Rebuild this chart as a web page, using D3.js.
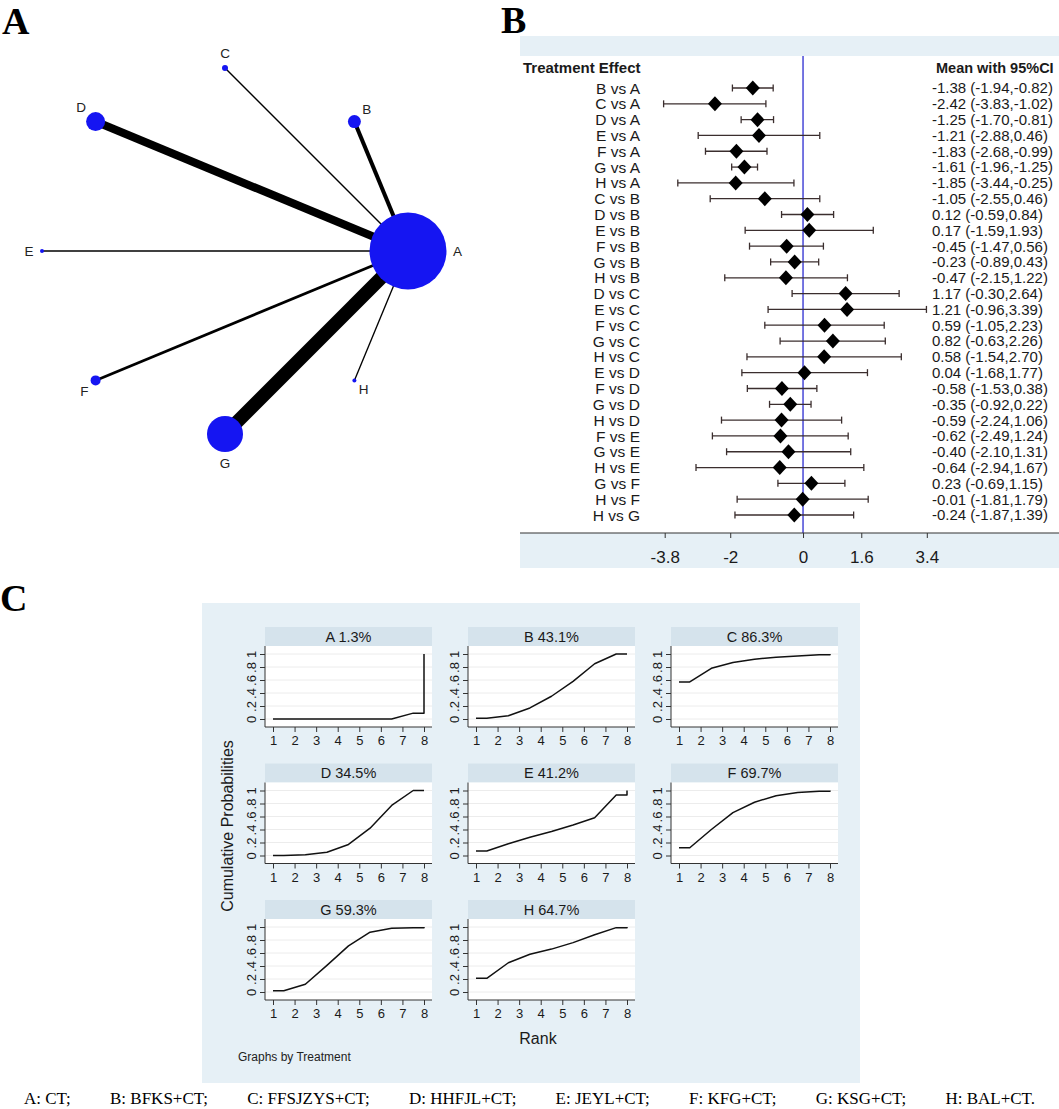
<!DOCTYPE html>
<html>
<head>
<meta charset="utf-8">
<script src="https://cdn.jsdelivr.net/npm/d3@7"></script>
<style>
  body { margin: 0; background: #fff; }
  svg { display: block; font-family: "Liberation Sans", Arial, sans-serif; }
</style>
</head>
<body>
<script>
// ---- network (panel A) ----
var treatments = ["A", "B", "C", "D", "E", "F", "G", "H"];
var sampleSize = [1480, 42, 9, 90, 4, 25, 324, 4];
var edgeTargets = ["B", "C", "D", "E", "F", "G", "H"];
var edgeStudies = [3, 1, 6, 1, 2, 10, 1];

// ---- league of comparisons (panel B) ----
var comparisons = ["B vs A", "C vs A", "D vs A", "E vs A", "F vs A", "G vs A", "H vs A",
  "C vs B", "D vs B", "E vs B", "F vs B", "G vs B", "H vs B",
  "D vs C", "E vs C", "F vs C", "G vs C", "H vs C",
  "E vs D", "F vs D", "G vs D", "H vs D",
  "F vs E", "G vs E", "H vs E", "G vs F", "H vs F", "H vs G"];
var meanDiff = [-1.38, -2.42, -1.25, -1.21, -1.83, -1.61, -1.85,
  -1.05, 0.12, 0.17, -0.45, -0.23, -0.47,
  1.17, 1.21, 0.59, 0.82, 0.58,
  0.04, -0.58, -0.35, -0.59,
  -0.62, -0.40, -0.64, 0.23, -0.01, -0.24];
var lowerCI = [-1.94, -3.83, -1.70, -2.88, -2.68, -1.96, -3.44,
  -2.55, -0.59, -1.59, -1.47, -0.89, -2.15,
  -0.30, -0.96, -1.05, -0.63, -1.54,
  -1.68, -1.53, -0.92, -2.24,
  -2.49, -2.10, -2.94, -0.69, -1.81, -1.87];
var upperCI = [-0.82, -1.02, -0.81, 0.46, -0.99, -1.25, -0.25,
  0.46, 0.84, 1.93, 0.56, 0.43, 1.22,
  2.64, 3.39, 2.23, 2.26, 2.70,
  1.77, 0.38, 0.22, 1.06,
  1.24, 1.31, 1.67, 1.15, 1.79, 1.39];
var forestTicks = [-3.8, -2, 0, 1.6, 3.4];

// ---- cumulative ranking probabilities (panel C), ranks 1..7 ----
var sucra = [1.3, 43.1, 86.3, 34.5, 41.2, 69.7, 59.3, 64.7];
var cumA = [0.00, 0.00, 0.00, 0.00, 0.00, 0.00, 0.09];
var cumB = [0.01, 0.05, 0.17, 0.35, 0.58, 0.85, 1.00];
var cumC = [0.57, 0.78, 0.87, 0.92, 0.95, 0.97, 0.99];
var cumD = [0.00, 0.01, 0.05, 0.17, 0.42, 0.77, 1.00];
var cumE = [0.07, 0.18, 0.28, 0.37, 0.47, 0.58, 0.93];
var cumF = [0.12, 0.40, 0.66, 0.82, 0.92, 0.97, 0.99];
var cumG = [0.02, 0.12, 0.41, 0.71, 0.92, 0.98, 0.99];
var cumH = [0.21, 0.45, 0.58, 0.66, 0.76, 0.88, 0.99];
var ranks = [1, 2, 3, 4, 5, 6, 7, 8];
var probTicks = [0, 0.2, 0.4, 0.6, 0.8, 1];
var probTickLabels = ["0", ".2", ".4", ".6", ".8", "1"];

var legendItems = ["A: CT;", "B: BFKS+CT;", "C: FFSJZYS+CT;", "D: HHFJL+CT;",
  "E: JEYL+CT;", "F: KFG+CT;", "G: KSG+CT;", "H: BAL+CT."];

var paleBlue = "#e6f0f6",
    stripBlue = "#d5e3ec",
    ink = "#1a1a1a";

// plain hyphen for negatives, like the original
var locale = d3.formatLocale({ decimal: ".", thousands: ",", grouping: [3],
                               currency: ["", ""], minus: "-" });

var svg = d3.select("body").append("svg")
    .attr("width", 1059)
    .attr("height", 1109);

function panelLetter(txt, x, y) {
  svg.append("text")
      .attr("x", x).attr("y", y)
      .style("font-family", "'Liberation Serif', 'Times New Roman', serif")
      .style("font-weight", "bold")
      .style("font-size", "38px")
      .text(txt);
}
panelLetter("A", 2, 34);
panelLetter("B", 501, 33);
panelLetter("C", 0, 611);

// ================= Panel A: network =================
(function() {
  var g = svg.append("g");
  var cx = 225, cy = 251, R = 183;
  var angle = d3.scaleLinear().domain([0, treatments.length]).range([0, 2 * Math.PI]);
  var rScale = d3.scaleSqrt().domain([0, d3.max(sampleSize)]).range([0, 38.5]);
  var wScale = d3.scaleLinear().domain([0, d3.max(edgeStudies)]).range([0, 13.5]);

  var nodes = treatments.map(function(t, i) {
    var a = angle(i);
    return { id: t, r: rScale(sampleSize[i]), a: a,
             x: cx + R * Math.cos(a), y: cy - R * Math.sin(a) };
  });
  var byId = {};
  nodes.forEach(function(n) { byId[n.id] = n; });

  g.selectAll("line.edge")
    .data(edgeTargets)
    .enter().append("line")
      .attr("class", "edge")
      .attr("x1", byId.A.x).attr("y1", byId.A.y)
      .attr("x2", function(d) { return byId[d].x; })
      .attr("y2", function(d) { return byId[d].y; })
      .attr("stroke", "#000")
      .attr("stroke-width", function(d, i) { return wScale(edgeStudies[i]); });

  g.selectAll("circle.node")
    .data(nodes)
    .enter().append("circle")
      .attr("class", "node")
      .attr("cx", function(d) { return d.x; })
      .attr("cy", function(d) { return d.y; })
      .attr("r", function(d) { return d.r; })
      .attr("fill", "#1515f2");

  g.selectAll("text.nlab")
    .data(nodes)
    .enter().append("text")
      .attr("class", "nlab")
      .attr("x", function(d) { return d.x + (d.r + 11) * Math.cos(d.a); })
      .attr("y", function(d) { return d.y - (d.r + 11) * Math.sin(d.a); })
      .attr("text-anchor", "middle")
      .attr("dominant-baseline", "central")
      .style("font-size", "13.5px")
      .attr("fill", "#222")
      .text(function(d) { return d.id; });
})();

// ================= Panel B: forest plot =================
(function() {
  var g = svg.append("g");
  var left = 520, right = 1059, axisY = 533;
  var x = d3.scaleLinear().domain([-3.8, 3.4]).range([664.7, 926.8]);
  var y = d3.scalePoint().domain(comparisons).range([88, 515]);
  var fmt = locale.format(".2f");

  g.append("rect").attr("x", left).attr("y", 36).attr("width", right - left).attr("height", 20)
      .attr("fill", paleBlue);
  g.append("rect").attr("x", left).attr("y", axisY).attr("width", right - left).attr("height", 35)
      .attr("fill", paleBlue);

  g.append("line")
      .attr("x1", x(0)).attr("x2", x(0))
      .attr("y1", 56).attr("y2", axisY)
      .attr("stroke", "#2b2bd0").attr("stroke-width", 1.3);

  g.append("text").attr("x", 523).attr("y", 73)
      .style("font-size", "15px").style("font-weight", "bold").attr("fill", ink)
      .text("Treatment Effect");
  g.append("text").attr("x", 936).attr("y", 73)
      .style("font-size", "14.5px").style("font-weight", "bold").attr("fill", ink)
      .text("Mean with 95%CI");

  var rows = g.selectAll("g.row")
    .data(comparisons)
    .enter().append("g")
      .attr("class", "row")
      .attr("transform", function(d) { return "translate(0," + y(d) + ")"; });

  rows.append("text")
      .attr("x", 640).attr("y", 0).attr("dy", "0.36em")
      .attr("text-anchor", "end")
      .style("font-size", "15.5px").attr("fill", ink)
      .text(function(d) { return d; });

  rows.append("text")
      .attr("x", 932).attr("y", 0).attr("dy", "0.36em")
      .style("font-size", "15px").attr("fill", ink)
      .text(function(d, i) {
        return fmt(meanDiff[i]) + " (" + fmt(lowerCI[i]) + "," + fmt(upperCI[i]) + ")";
      });

  var ciColor = "#3b2e2e";
  rows.append("line")
      .attr("x1", function(d, i) { return x(lowerCI[i]); })
      .attr("x2", function(d, i) { return x(upperCI[i]); })
      .attr("stroke", ciColor).attr("stroke-width", 1.3);
  rows.append("line")
      .attr("x1", function(d, i) { return x(lowerCI[i]); })
      .attr("x2", function(d, i) { return x(lowerCI[i]); })
      .attr("y1", -3.5).attr("y2", 3.5)
      .attr("stroke", ciColor).attr("stroke-width", 1.3);
  rows.append("line")
      .attr("x1", function(d, i) { return x(upperCI[i]); })
      .attr("x2", function(d, i) { return x(upperCI[i]); })
      .attr("y1", -3.5).attr("y2", 3.5)
      .attr("stroke", ciColor).attr("stroke-width", 1.3);
  rows.append("path")
      .attr("d", function(d, i) {
        var cxp = x(meanDiff[i]);
        return "M" + (cxp - 7) + ",0L" + cxp + ",-7.5L" + (cxp + 7) + ",0L" + cxp + ",7.5Z";
      })
      .attr("fill", "#000");

  var axis = g.append("g")
      .attr("transform", "translate(0," + axisY + ")")
      .call(d3.axisBottom(x).tickValues(forestTicks).tickSize(5).tickPadding(13)
        .tickFormat(function(d) { return String(d); }));
  axis.select(".domain").remove();
  axis.selectAll(".tick line").attr("stroke", "#333");
  axis.selectAll(".tick text").style("font-size", "17px").style("font-family", "'Liberation Sans', Arial, sans-serif")
      .attr("fill", ink);
  g.append("line").attr("x1", left).attr("x2", right).attr("y1", axisY).attr("y2", axisY)
      .attr("stroke", "#333").attr("stroke-width", 1.2);
})();

// ================= Panel C: cumulative ranking =================
(function() {
  var g = svg.append("g");
  var cumData = [cumA, cumB, cumC, cumD, cumE, cumF, cumG, cumH];
  var colLeft = [265, 468, 671], colW = 167;
  var rowTop = [627, 763.5, 900], stripH = 19, plotH = 81;

  g.append("rect").attr("x", 202).attr("y", 603).attr("width", 658).attr("height", 480)
      .attr("fill", paleBlue);

  treatments.forEach(function(t, i) {
    var cl = colLeft[i % 3], rt = rowTop[Math.floor(i / 3)];
    var pt = rt + stripH;
    var x = d3.scaleLinear().domain([1, 8]).range([cl + 8, cl + 159]);
    var y = d3.scaleLinear().domain([0, 1]).range([pt + 73, pt + 8]);
    var cell = g.append("g");

    cell.append("rect").attr("x", cl).attr("y", rt).attr("width", colW).attr("height", stripH)
        .attr("fill", stripBlue);
    cell.append("text").attr("x", cl + colW / 2).attr("y", rt + stripH / 2).attr("dy", "0.36em")
        .attr("text-anchor", "middle").style("font-size", "14.5px").attr("fill", ink)
        .text(t + " " + sucra[i] + "%");
    cell.append("rect").attr("x", cl).attr("y", pt).attr("width", colW).attr("height", plotH)
        .attr("fill", "#fff");

    cell.selectAll("line.grid")
      .data(probTicks)
      .enter().append("line")
        .attr("class", "grid")
        .attr("x1", cl).attr("x2", cl + colW)
        .attr("y1", function(d) { return y(d); })
        .attr("y2", function(d) { return y(d); })
        .attr("stroke", "#ececec").attr("stroke-width", 1);

    // curve: flat first half-rank, midpoints, flat last half-rank, then jump to 1
    var c = cumData[i];
    var pts = [[1, c[0]]];
    c.forEach(function(v, k) { pts.push([ranks[k] + 0.5, v]); });
    pts.push([8, c[c.length - 1]]);
    pts.push([8, 1]);
    cell.append("path")
        .datum(pts)
        .attr("fill", "none").attr("stroke", "#111").attr("stroke-width", 1.5)
        .attr("stroke-linejoin", "round")
        .attr("d", d3.line().x(function(d) { return x(d[0]); }).y(function(d) { return y(d[1]); }));

    var xa = cell.append("g")
        .attr("transform", "translate(0," + (pt + plotH) + ")")
        .call(d3.axisBottom(x).tickValues(ranks).tickSize(5).tickPadding(4).tickSizeOuter(0)
          .tickFormat(d3.format("d")));
    xa.select(".domain").attr("d", "M" + cl + ",0H" + (cl + colW)).attr("stroke", "#333");
    xa.selectAll(".tick line").attr("stroke", "#333");
    xa.selectAll(".tick text").style("font-size", "13px").attr("fill", ink)
        .style("font-family", "'Liberation Sans', Arial, sans-serif");

    var ya = cell.append("g")
        .attr("transform", "translate(" + cl + ",0)")
        .call(d3.axisLeft(y).tickValues(probTicks).tickSize(5).tickPadding(3)
          .tickFormat(function(d, k) { return probTickLabels[k]; }));
    ya.select(".domain").attr("d", "M0," + pt + "V" + (pt + plotH)).attr("stroke", "#333");
    ya.selectAll(".tick line").attr("stroke", "#333");
    ya.selectAll(".tick text")
        .style("font-size", "13px").attr("fill", ink)
        .style("font-family", "'Liberation Sans', Arial, sans-serif")
        .attr("text-anchor", "middle")
        .attr("x", null)
        .attr("transform", "translate(-14,0) rotate(-90)")
        .attr("dy", "0.36em");
  });

  g.append("text")
      .attr("transform", "translate(227,826) rotate(-90)")
      .attr("text-anchor", "middle").attr("dy", "0.36em")
      .style("font-size", "16px").attr("fill", ink)
      .text("Cumulative Probabilities");
  g.append("text").attr("x", 538).attr("y", 1044).attr("text-anchor", "middle")
      .style("font-size", "16px").attr("fill", ink).text("Rank");
  g.append("text").attr("x", 238).attr("y", 1061)
      .style("font-size", "12px").attr("fill", "#222").text("Graphs by Treatment");
})();

// ================= footer legend =================
(function() {
  var g = svg.append("g")
      .style("font-family", "'Liberation Serif', 'Times New Roman', serif")
      .style("font-size", "17px");
  var items = g.selectAll("text")
    .data(legendItems)
    .enter().append("text")
      .attr("y", 1104)
      .attr("fill", "#000")
      .text(function(d) { return d; });
  var widths = [];
  items.each(function() { widths.push(this.getComputedTextLength()); });
  var x0 = 24, x1 = 1035;
  var gap = (x1 - x0 - d3.sum(widths)) / (legendItems.length - 1);
  var pos = x0;
  items.attr("x", function(d, i) { var p = pos; pos += widths[i] + gap; return p; });
})();
</script>
</body>
</html>
